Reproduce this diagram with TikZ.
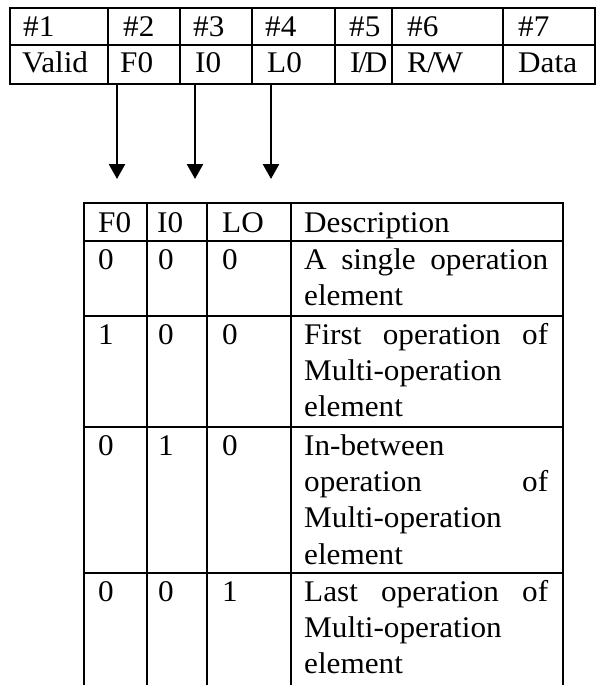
\documentclass[tikz,border=0pt]{standalone}
\usepackage{fontspec}
\setmainfont{Liberation Serif}[FakeStretch=1.04]
\usetikzlibrary{arrows,arrows.meta,positioning,calc}

\begin{document}
\begin{tikzpicture}[x=1pt, y=-1pt, font=\fontsize{30}{36.4}\selectfont]
\tikzstyle{cell} = [anchor=base west, inner sep=0pt]
\tikzstyle{desc} = [cell, text width=243pt, align=left]
\tikzstyle{grid} = [draw, line width=2pt]
\tikzstyle{line} = [draw, line width=2.6pt, -{Triangle[length=15pt, width=16pt]}]

\useasboundingbox (0,0) rectangle (596,685);

% field table
\path[grid] (10,8) rectangle (595,84) (10,45) -- (595,45);
\path[grid] (108,8) -- (108,84) (180,8) -- (180,84) (252,8) -- (252,84)
  (335,8) -- (335,84) (392,8) -- (392,84) (503,8) -- (503,84);

\node[cell] (num1) at (23,37) {\#1};
\node[cell] (num2) at (123,37) {\#2};
\node[cell] (num3) at (193,37) {\#3};
\node[cell] (num4) at (265,37) {\#4};
\node[cell] (num5) at (349,37) {\#5};
\node[cell] (num6) at (407,37) {\#6};
\node[cell] (num7) at (518,37) {\#7};

\node[cell] (valid) at (22,73) {Valid};
\node[cell] (ffirst) at (120,73) {F0};
\node[cell] (finter) at (195,73) {I0};
\node[cell] (flast) at (267,73) {L0};
\node[cell] (fid) at (350,73) {I\kern-2pt/\kern-2.5pt D};
\node[cell] (frw) at (407,73) {R\kern-1pt/\kern-2pt W};
\node[cell] (fdata) at (518,73) {Data};

% arrows down to the flag table
\coordinate (fsrc) at (117,84);
\coordinate (fdst) at (117,179);
\coordinate (isrc) at (195,84);
\coordinate (idst) at (195,179);
\coordinate (lsrc) at (271,84);
\coordinate (ldst) at (271,179);
\path [line] (fsrc) -- (fdst);
\path [line] (isrc) -- (idst);
\path [line] (lsrc) -- (ldst);

% flag table
\path[grid] (84,685) -- (84,203) -- (563,203) -- (563,685);
\path[grid] (84,241) -- (563,241) (84,316) -- (563,316)
  (84,427) -- (563,427) (84,573) -- (563,573);
\path[grid] (147,203) -- (147,685) (207,203) -- (207,685) (291,203) -- (291,685);

\node[cell] (hf) at (98,232) {F0};
\node[cell] (hi) at (157,232) {I0};
\node[cell] (hl) at (222,232) {LO};
\node[cell] (hdesc) at (304,232) {Description};

\node[cell] (af) at (98,269) {0};
\node[cell] (ai) at (158,269) {0};
\node[cell] (al) at (222,269) {0};
\node[desc] (adesc) at (304,269) {\makebox[244pt][l]{A\hfill single\hfill operation}\\element};

\node[cell] (bf) at (98,344) {1};
\node[cell] (bi) at (158,344) {0};
\node[cell] (bl) at (222,344) {0};
\node[desc] (bdesc) at (304,344) {\makebox[244pt][l]{First\hfill operation\hfill of}\\Multi-operation\\element};

\node[cell] (cf) at (98,455) {0};
\node[cell] (ci) at (158,455) {1};
\node[cell] (cl) at (222,455) {0};
\node[desc] (cdesc) at (304,455) {In-between\\\makebox[244pt][l]{operation\hfill of}\\Multi-operation\\element};

\node[cell] (df) at (98,601) {0};
\node[cell] (di) at (158,601) {0};
\node[cell] (dl) at (222,601) {1};
\node[desc] (ddesc) at (304,601) {\makebox[244pt][l]{Last\hfill operation\hfill of}\\Multi-operation\\element};

\end{tikzpicture}
\end{document}
